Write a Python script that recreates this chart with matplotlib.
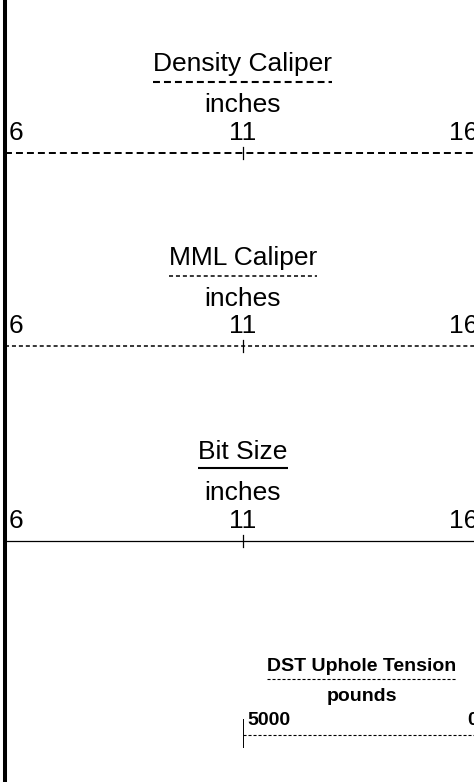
import matplotlib
matplotlib.use('Agg')
import matplotlib.pyplot as plt

plt.rcParams['font.family'] = ['Liberation Sans', 'DejaVu Sans']
plt.rcParams['lines.scale_dashes'] = False

W, H = 474, 782

# curve header data
names = ['Density Caliper', 'MML Caliper', 'Bit Size', 'DST Uphole Tension']
units = ['inches', 'inches', 'inches', 'pounds']
left_vals = [6, 6, 6, 5000]
right_vals = [16, 16, 16, 0]
show_mid = [True, True, True, False]

# layout / style (pixels from top, pixels from left)
line_y = [153, 346, 541, 735]
track_px = [(5, 481), (5, 481), (5, 481), (243, 481)]
dash_pat = [(5.0, 2.9), (2.9, 2.1), None, (2.2, 1.4)]
under_dash = [(5.0, 2.9), (2.9, 2.1), None, (2.2, 1.4)]
line_w = [1.4, 1.1, 0.9, 0.8]
under_w = [1.5, 1.1, 1.5, 0.8]
font_size = [19, 19, 19, 14]
weights = ['normal', 'normal', 'normal', 'bold']
title_off = [82, 81, 82, 64]
under_off = [71, 70, 73, 56]
unit_off = [41, 40, 41, 34]
label_off = [13, 13, 13, 10]

fig = plt.figure(figsize=(W / 100, H / 100), dpi=100)
fig.patch.set_facecolor('white')

axes = []
titles = []
for i in range(len(names)):
    x0, x1 = track_px[i]
    ax = fig.add_axes([x0 / W, 0, (x1 - x0) / W, 1])
    ax.set_xlim(left_vals[i], right_vals[i])
    ax.set_ylim(H, 0)
    ax.axis('off')
    axes.append(ax)

    lo, hi = left_vals[i], right_vals[i]
    mid = (lo + hi) / 2
    y = line_y[i]
    fs = font_size[i]
    fw = weights[i]

    t = ax.text(mid, y - title_off[i], names[i], ha='center', va='baseline',
                fontsize=fs, fontweight=fw)
    titles.append(t)
    ax.text(mid, y - unit_off[i], units[i], ha='center', va='baseline',
            fontsize=fs, fontweight=fw)
    ax.annotate(f'{lo}', xy=(lo, y - label_off[i]), xytext=(4, 0),
                textcoords='offset pixels', ha='left', va='baseline',
                fontsize=fs, fontweight=fw)
    ax.annotate(f'{hi}', xy=(hi, y - label_off[i]), xytext=(-3, 0),
                textcoords='offset pixels', ha='right', va='baseline',
                fontsize=fs, fontweight=fw)
    if show_mid[i]:
        ax.text(mid, y - label_off[i], f'{mid:g}', ha='center', va='baseline',
                fontsize=fs, fontweight=fw)

    # scale line
    ln, = ax.plot([lo, hi], [y, y], color='black', lw=line_w[i],
                  solid_capstyle='butt', dash_capstyle='butt')
    if dash_pat[i] is not None:
        ln.set_dashes(dash_pat[i])

    # tick mark
    if show_mid[i]:
        ax.plot([mid, mid], [y - 6, y + 6], color='black', lw=0.9)
    else:
        ax.plot([lo, lo], [y - 16, y + 13], color='black', lw=1.4,
                solid_capstyle='butt')

# thick track border on the left
axes[0].axvline(left_vals[0], color='black', lw=2.9, clip_on=False)

# underlines sized to the title text
fig.canvas.draw()
renderer = fig.canvas.get_renderer()
for i, t in enumerate(titles):
    ax = axes[i]
    bb = t.get_window_extent(renderer)
    inv = ax.transData.inverted()
    xa = inv.transform((bb.x0, 0))[0]
    xb = inv.transform((bb.x1, 0))[0]
    uy = line_y[i] - under_off[i]
    ul, = ax.plot([xa, xb], [uy, uy], color='black', lw=under_w[i],
                  solid_capstyle='butt', dash_capstyle='butt')
    if under_dash[i] is not None:
        ul.set_dashes(under_dash[i])

fig.savefig('out.png', dpi=100, facecolor='white')
